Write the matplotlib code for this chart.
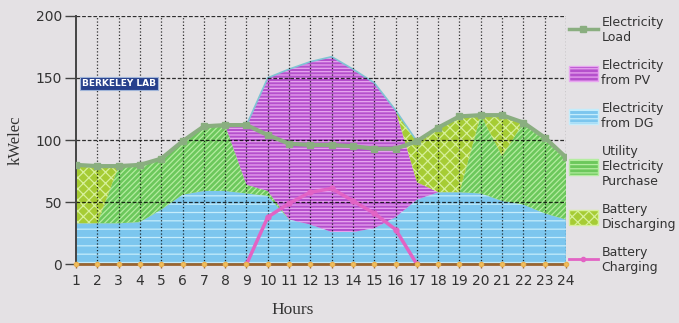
import numpy as np
import matplotlib
matplotlib.use('Agg')
import matplotlib.pyplot as plt
from matplotlib.patches import Patch
from matplotlib.lines import Line2D

# hourly values (kWelec)
hours = list(range(1, 25))
load = [80, 79, 79, 80, 85, 99, 111, 112, 112, 104, 97, 96,
        96, 95, 93, 93, 99, 110, 119, 120, 120, 114, 102, 86]
dg = [33, 33, 33, 34, 44, 56, 59, 59, 57, 55, 36, 32,
      26, 26, 29, 38, 52, 58, 58, 57, 51, 48, 41, 36]
utility = [0, 0, 46, 46, 41, 43, 52, 53, 7, 4, 0, 0,
           0, 0, 0, 0, 0, 0, 0, 63, 36, 66, 61, 50]
pv = [0, 0, 0, 0, 0, 0, 0, 0, 48, 91, 121, 131,
      141, 131, 117, 86, 14, 0, 0, 0, 0, 0, 0, 0]
discharge = [47, 46, 0, 0, 0, 0, 0, 0, 0, 0, 0, 0,
             0, 0, 0, 0, 33, 52, 61, 0, 33, 0, 0, 0]
charge_hours = [9, 10, 11, 12, 13, 14, 15, 16, 17]
charge = [0, 38, 49, 58, 61, 51, 41, 28, 0]

labels = ["Electricity\nLoad", "Electricity\nfrom PV", "Electricity\nfrom DG",
          "Utility\nElectricity\nPurchase", "Battery\nDischarging", "Battery\nCharging"]

bg = '#e4e1e4'
c_load = '#8aae80'
c_pv, h_pv = '#b550cc', '#e8a6f0'
c_dg, h_dg = '#7cc6ee', '#c4ecfb'
c_ut, h_ut = '#6cc85c', '#b4eca0'
c_bat, h_bat = '#a6cc34', '#d6f09a'
c_chg = '#e263c4'

plt.rcParams['hatch.linewidth'] = 0.9

fig = plt.figure(figsize=(6.79, 3.23), dpi=100, facecolor=bg)
ax = fig.add_axes([0.112, 0.1817, 0.7216, 0.7697], facecolor=bg)

y0 = np.zeros(len(hours))
y1 = y0 + np.array(dg)
y2 = y1 + np.array(utility)
y3 = y2 + np.array(pv)
y4 = y3 + np.array(discharge)


def hatched(lo, hi, face, hatch, hcolor):
    ax.fill_between(hours, lo, hi, facecolor=face, edgecolor='none', lw=0, zorder=1)
    ax.fill_between(hours, lo, hi, facecolor='none', edgecolor=hcolor,
                    hatch=hatch, lw=0, zorder=1.1)


hatched(y0, y1, c_dg, '--', h_dg)
hatched(y1, y2, c_ut, '//////', h_ut)
hatched(y2, y3, c_pv, '-----', h_pv)
hatched(y3, y4, c_bat, 'xxx', h_bat)
ax.plot(hours, y4, color='#80c4d4', lw=1.2, zorder=1.5)

# grid on top of the areas
for h in hours[1:]:
    ax.axvline(h, color='black', ls=':', lw=0.9, alpha=0.8, zorder=2)
for v in [50, 100, 150, 200]:
    ax.axhline(v, color='black', ls=(0, (3, 1.5)), lw=0.9, alpha=0.8, zorder=2)

ax.plot(hours, load, color=c_load, lw=3, marker='s', ms=5, zorder=4)
ax.plot(charge_hours, charge, color=c_chg, lw=2.5, marker='o', ms=3.5, zorder=4)
ax.plot(hours, np.zeros(len(hours)), color='#9a6430', lw=2, marker='o', ms=3,
        mfc='#f0c060', mec='#e8b050', zorder=5, clip_on=False)

ax.set_xlim(1, 24)
ax.set_ylim(0, 200)
ax.set_xticks(hours)
ax.set_yticks([0, 50, 100, 150, 200])
for s in ['top', 'right']:
    ax.spines[s].set_visible(False)
ax.spines['left'].set_color('#444444')
ax.spines['left'].set_linewidth(1.4)
ax.spines['bottom'].set_visible(False)
ax.tick_params(axis='y', length=8, width=1, color='#444444', labelsize=10,
               labelcolor='#333333', pad=2)
ax.tick_params(axis='x', length=3, width=1, color='#9a6430', labelsize=10,
               labelcolor='#333333', pad=4)
ax.set_ylabel('kWelec', family='Liberation Serif', fontsize=12, color='#333333', labelpad=9)
ax.set_xlabel('Hours', family='Liberation Serif', fontsize=12.5, color='#333333',
              labelpad=10, x=0.443)

ax.text(0.088, 0.728, 'BERKELEY LAB', transform=ax.transAxes, ha='center', va='center',
        fontsize=6.5, color='white', fontweight='bold', zorder=6,
        bbox=dict(boxstyle='square,pad=0.25', facecolor='#27408c', edgecolor='#9fb4d8', lw=0.8))

handles = [
    Line2D([0], [0], color=c_load, lw=2.5, marker='s', ms=4),
    Patch(facecolor=c_pv, edgecolor=h_pv, hatch='----'),
    Patch(facecolor=c_dg, edgecolor=h_dg, hatch='----'),
    Patch(facecolor=c_ut, edgecolor=h_ut, hatch='----'),
    Patch(facecolor=c_bat, edgecolor=h_bat, hatch='xxx'),
    Line2D([0], [0], color=c_chg, lw=2, marker='o', ms=3),
]
leg = ax.legend(handles, labels, loc='upper left', bbox_to_anchor=(1.006, 1.0),
                frameon=False, fontsize=9, handlelength=2.3, handleheight=1.5,
                handletextpad=0.3, labelspacing=1.2, borderaxespad=0, borderpad=0)
for t in leg.get_texts():
    t.set_color('#333333')

fig.savefig('out.png', dpi=100, facecolor=bg)
